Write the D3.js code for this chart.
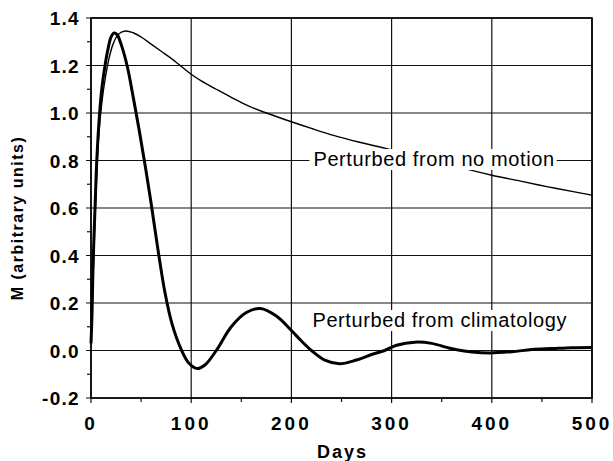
<!DOCTYPE html>
<html>
<head>
<meta charset="utf-8">
<script src="https://cdn.jsdelivr.net/npm/d3@7"></script>
<style>
  body { margin: 0; background: #fff; }
  text { font-family: "Liberation Sans", Arial, Helvetica, sans-serif; }
</style>
</head>
<body>
<script>
// Chart size and plot area
const width = 613;
const height = 461;
const margin = { top: 18, right: 21, bottom: 63, left: 91 };

// Data: [day, M]
const noMotion = [
  [0, 0.03], [2, 0.3], [4, 0.55], [6, 0.77], [8, 0.92], [11, 1.05], [14, 1.14],
  [18, 1.23], [22, 1.29], [27, 1.33], [34, 1.345], [42, 1.338], [50, 1.32],
  [60, 1.29], [70, 1.26], [80, 1.23], [89, 1.2], [100, 1.163], [110, 1.135],
  [125, 1.1], [140, 1.066], [157, 1.03], [175, 1.0], [200, 0.963], [220, 0.935],
  [242, 0.906], [268, 0.877], [295, 0.85], [320, 0.825], [350, 0.793],
  [385, 0.753], [400, 0.738], [430, 0.712], [455, 0.69], [480, 0.67], [500, 0.654]
];
const climatology = [
  [0, 0.03], [1, 0.15], [2, 0.35], [4, 0.6], [6, 0.82], [8.6, 1.0], [11, 1.11],
  [14, 1.2], [17, 1.27], [20, 1.32], [23, 1.337], [26, 1.33], [30, 1.29],
  [36, 1.2], [42, 1.07], [48, 0.93], [54, 0.78], [60, 0.62], [67, 0.42],
  [74, 0.24], [81, 0.11], [90.5, 0], [98, -0.055], [106, -0.076], [114, -0.06],
  [125, 0], [140, 0.1], [155, 0.16], [169, 0.177], [185, 0.145], [200, 0.084],
  [210, 0.04], [220, 0], [234, -0.042], [248, -0.056], [265, -0.04],
  [280, -0.017], [293, 0], [305, 0.022], [323, 0.035], [340, 0.03], [355, 0.013],
  [365, 0.003], [380, -0.006], [398, -0.01], [420, -0.005], [440, 0.004],
  [460, 0.008], [480, 0.012], [500, 0.013]
];
const xTicks = [0, 100, 200, 300, 400, 500];
const xMinor = [50, 150, 250, 350, 450];
const yTicks = [-0.2, 0, 0.2, 0.4, 0.6, 0.8, 1.0, 1.2, 1.4];
const yMinor = [-0.1, 0.1, 0.3, 0.5, 0.7, 0.9, 1.1, 1.3];
const labels = [
  { text: "Perturbed from no motion", day: 222, m: 0.80, dy: 5.5 },
  { text: "Perturbed from climatology", day: 221, m: 0.2, dy: 24 }
];

const svg = d3.select("body")
  .append("svg")
  .attr("width", width)
  .attr("height", height);

const x = d3.scaleLinear().domain([0, 500]).range([margin.left, width - margin.right]);
const y = d3.scaleLinear().domain([-0.2, 1.4]).range([height - margin.bottom, margin.top]);

// Grid lines
svg.append("g")
  .selectAll("line")
  .data(xTicks)
  .join("line")
  .attr("x1", d => x(d)).attr("x2", d => x(d))
  .attr("y1", y(1.4)).attr("y2", y(-0.2) + 5)
  .attr("stroke", "#111").attr("stroke-width", 1.2);

svg.append("g")
  .selectAll("line")
  .data(yTicks)
  .join("line")
  .attr("x1", x(0) - 5).attr("x2", x(500))
  .attr("y1", d => y(d)).attr("y2", d => y(d))
  .attr("stroke", "#111").attr("stroke-width", 1.2);

// Minor ticks (outside the frame)
svg.append("g")
  .selectAll("line")
  .data(xMinor)
  .join("line")
  .attr("x1", d => x(d)).attr("x2", d => x(d))
  .attr("y1", y(-0.2)).attr("y2", y(-0.2) + 4)
  .attr("stroke", "#111").attr("stroke-width", 1.2);

svg.append("g")
  .selectAll("line")
  .data(yMinor)
  .join("line")
  .attr("x1", x(0) - 4).attr("x2", x(0))
  .attr("y1", d => y(d)).attr("y2", d => y(d))
  .attr("stroke", "#111").attr("stroke-width", 1.2);

// Curves
const line = d3.line()
  .x(d => x(d[0]))
  .y(d => y(d[1]))
  .curve(d3.curveCatmullRom.alpha(0.5));

svg.append("path")
  .datum(noMotion)
  .attr("d", line)
  .attr("fill", "none")
  .attr("stroke", "#000")
  .attr("stroke-width", 1.4);

svg.append("path")
  .datum(climatology)
  .attr("d", line)
  .attr("fill", "none")
  .attr("stroke", "#000")
  .attr("stroke-width", 3);

// Curve labels with white boxes that hide the grid behind them
labels.forEach(l => {
  const t = svg.append("text")
    .attr("x", x(l.day))
    .attr("y", y(l.m) + l.dy)
    .style("font-size", "20px")
    .style("letter-spacing", "0.6px")
    .text(l.text);
  const b = t.node().getBBox();
  svg.insert("rect", "text")
    .attr("x", b.x - 4).attr("y", b.y + 1)
    .attr("width", b.width + 6).attr("height", b.height - 1)
    .attr("fill", "#fff");
});

// Frame
svg.append("rect")
  .attr("x", x(0)).attr("y", y(1.4))
  .attr("width", x(500) - x(0)).attr("height", y(-0.2) - y(1.4))
  .attr("fill", "none")
  .attr("stroke", "#000")
  .attr("stroke-width", 1.6);

// Tick labels
svg.append("g")
  .selectAll("text")
  .data(xTicks)
  .join("text")
  .attr("x", d => x(d))
  .attr("y", 430)
  .attr("text-anchor", "middle")
  .style("font-size", "19px")
  .style("font-weight", "bold")
  .style("letter-spacing", "3px")
  .text(d => d);

svg.append("g")
  .selectAll("text")
  .data(yTicks)
  .join("text")
  .attr("x", 80)
  .attr("y", d => y(d) + 7)
  .attr("text-anchor", "end")
  .style("font-size", "19px")
  .style("font-weight", "bold")
  .style("letter-spacing", "1.3px")
  .text(d => d3.format(".1f")(d).replace("\u2212", "-"));

// Axis titles
svg.append("text")
  .attr("x", (x(0) + x(500)) / 2 + 1)
  .attr("y", 458)
  .attr("text-anchor", "middle")
  .style("font-size", "18px")
  .style("font-weight", "bold")
  .style("letter-spacing", "2px")
  .text("Days");

svg.append("text")
  .attr("transform", `translate(23, ${218}) rotate(-90)`)
  .attr("text-anchor", "middle")
  .style("font-size", "16px")
  .style("font-weight", "bold")
  .style("letter-spacing", "1.5px")
  .text("M (arbitrary units)");
</script>
</body>
</html>
